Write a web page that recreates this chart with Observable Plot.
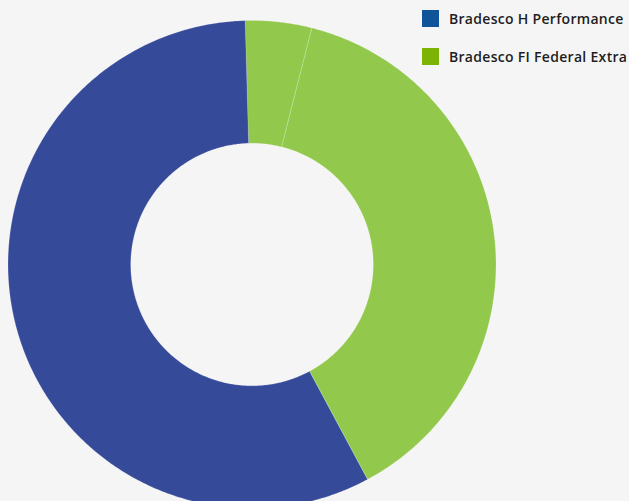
<!DOCTYPE html>
<html>
<head>
<meta charset="utf-8">
<script src="https://cdn.jsdelivr.net/npm/d3@7"></script>
<script src="https://cdn.jsdelivr.net/npm/@observablehq/plot@0.6"></script>
<style>
  html, body { margin: 0; padding: 0; background: #f5f5f5; overflow: hidden; }
  #wrap { position: relative; width: 629px; height: 501px; }
  #legend { position: absolute; left: 422px; top: 10px; font-family: "Open Sans", sans-serif; font-weight: 600; font-size: 14px; letter-spacing: 0.3px; color: #1e1e1e; white-space: nowrap; }
  .item { display: flex; align-items: center; height: 17px; margin-bottom: 21px; }
  .sw { width: 17px; height: 17px; margin-right: 10px; flex: none; }
</style>
</head>
<body>
<div id="wrap">
  <div id="chart"></div>
  <div id="legend"></div>
</div>
<script>
// Slices, clockwise from the start angle
const sliceNames = ["Bradesco FI Federal Extra (a)", "Bradesco FI Federal Extra (b)", "Bradesco H Performance"];
const sliceValues = [4.4, 38.2, 57.4];
const sliceColors = ["#92c84c", "#92c84c", "#364a9a"];
const legendNames = ["Bradesco H Performance", "Bradesco FI Federal Extra"];
const legendColors = ["#0f5499", "#7cb305"];

const startAngle = -1.6 * Math.PI / 180;
const innerR = 0.497;

const pie = d3.pie().sort(null).value(d => d.value)
  .startAngle(startAngle).endAngle(startAngle + 2 * Math.PI);
const arcs = pie(sliceNames.map((name, i) => ({name, value: sliceValues[i], color: sliceColors[i]})));

// Build polygon outlines in unit space from pie angles
const pts = [];
arcs.forEach((a) => {
  const n = Math.max(8, Math.ceil((a.endAngle - a.startAngle) / 0.01));
  for (let i = 0; i <= n; i++) {
    const t = a.startAngle + (a.endAngle - a.startAngle) * i / n;
    pts.push({slice: a.data.name, color: a.data.color, x: Math.sin(t), y: Math.cos(t)});
  }
  for (let i = n; i >= 0; i--) {
    const t = a.startAngle + (a.endAngle - a.startAngle) * i / n;
    pts.push({slice: a.data.name, color: a.data.color, x: innerR * Math.sin(t), y: innerR * Math.cos(t)});
  }
});

const chart = Plot.plot({
  width: 629,
  height: 501,
  margin: 0,
  style: {background: "#f5f5f5", overflow: "visible"},
  x: {domain: [-1, 1], range: [7.5, 495.5], axis: null},
  y: {domain: [-1, 1], range: [508, 20], axis: null},
  color: {type: "identity"},
  marks: [
    Plot.line(pts, {x: "x", y: "y", z: "slice", fill: "color", stroke: "#ffffff", strokeOpacity: 0.3, strokeWidth: 0.6, curve: "linear-closed"})
  ]
});
document.getElementById("chart").appendChild(chart);

const legend = d3.select("#legend");
legendNames.forEach((name, i) => {
  const it = legend.append("div").attr("class", "item");
  it.append("div").attr("class", "sw").style("background", legendColors[i]);
  it.append("span").text(name);
});
</script>
</body>
</html>
